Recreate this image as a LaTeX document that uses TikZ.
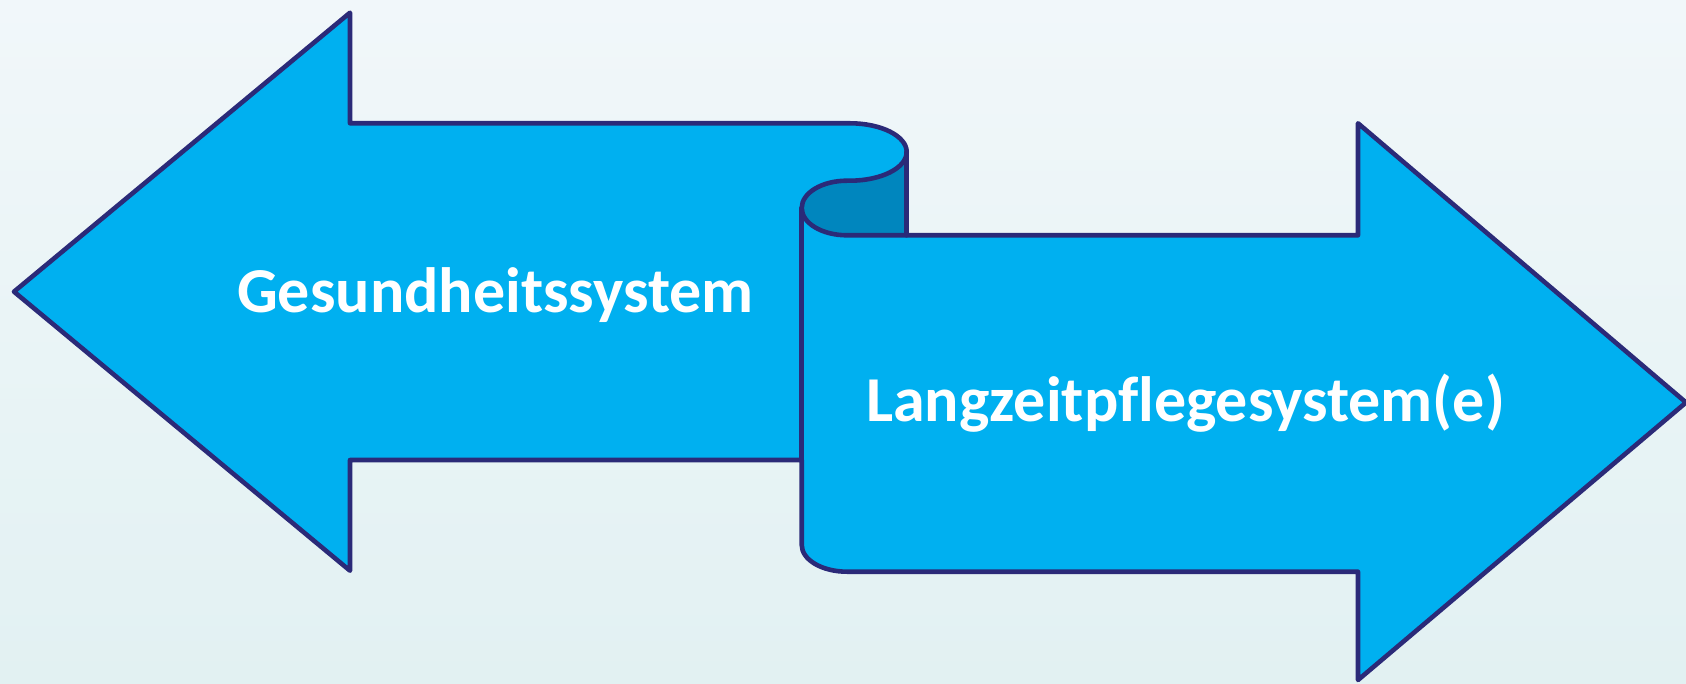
\documentclass[tikz,border=0pt]{standalone}
\usepackage{fontspec}
\setmainfont[Ligatures=NoCommon]{Carlito}
\definecolor{bgtop}{HTML}{F1F7FA}
\definecolor{bgbot}{HTML}{E2F1F2}
\definecolor{ribbon}{HTML}{00B0F0}
\definecolor{ribbondark}{HTML}{0086BE}
\definecolor{edge}{HTML}{2B2A78}
\tikzset{
  outline/.style={draw=edge, line width=4.6pt, line join=round, line cap=round},
  lbl/.style={text=white, font=\fontsize{64}{76}\selectfont\bfseries, inner sep=0pt, anchor=base west}
}
\begin{document}
\begin{tikzpicture}[x=1pt,y=1pt]
\useasboundingbox (0,0) rectangle (1686,683);
\shade[top color=bgtop, bottom color=bgbot] (0,0) rectangle (1686,683);
% main ribbon body
\fill[ribbon] (350,559.7) -- (350,670.3) -- (14,391.3) -- (350,112.3) -- (350,223) -- (801.7,223) -- (801.7,138)
  arc[start angle=180,end angle=270,x radius=45.3,y radius=26.7] -- (1358,111.3) -- (1358,3) -- (1686,280.5)
  -- (1358,559.7) -- (1358,447.7) -- (847,447.7)
  arc[start angle=270,end angle=90,x radius=45.3,y radius=27.3] -- (850,502.3)
  arc[start angle=270,end angle=450,x radius=56.7,y radius=28.7] -- cycle;
% dark back of the curl
\fill[ribbondark] (906.7,531) arc[start angle=0,end angle=-90,x radius=56.7,y radius=28.7] -- (847,502.3)
  arc[start angle=90,end angle=270,x radius=45.3,y radius=27.3] -- (906.7,447.7) -- cycle;
% outlines
\draw[outline] (350,559.7) -- (350,670.3) -- (14,391.3) -- (350,112.3) -- (350,223) -- (801.7,223) -- (801.7,138)
  arc[start angle=180,end angle=270,x radius=45.3,y radius=26.7] -- (1358,111.3) -- (1358,3) -- (1686,280.5)
  -- (1358,559.7) -- (1358,447.7) -- (847,447.7)
  arc[start angle=270,end angle=90,x radius=45.3,y radius=27.3] -- (850,502.3)
  arc[start angle=270,end angle=450,x radius=56.7,y radius=28.7] -- cycle;
\draw[outline] (906.7,531) -- (906.7,447.7);
\draw[outline] (801.7,475) -- (801.7,223);
% labels
\node[lbl] (gs) at (237,370) {Gesundheitssystem};
\node[lbl] (lz) at (866,261.3) {Langzeitpflegesystem(e)};
\end{tikzpicture}
\end{document}
